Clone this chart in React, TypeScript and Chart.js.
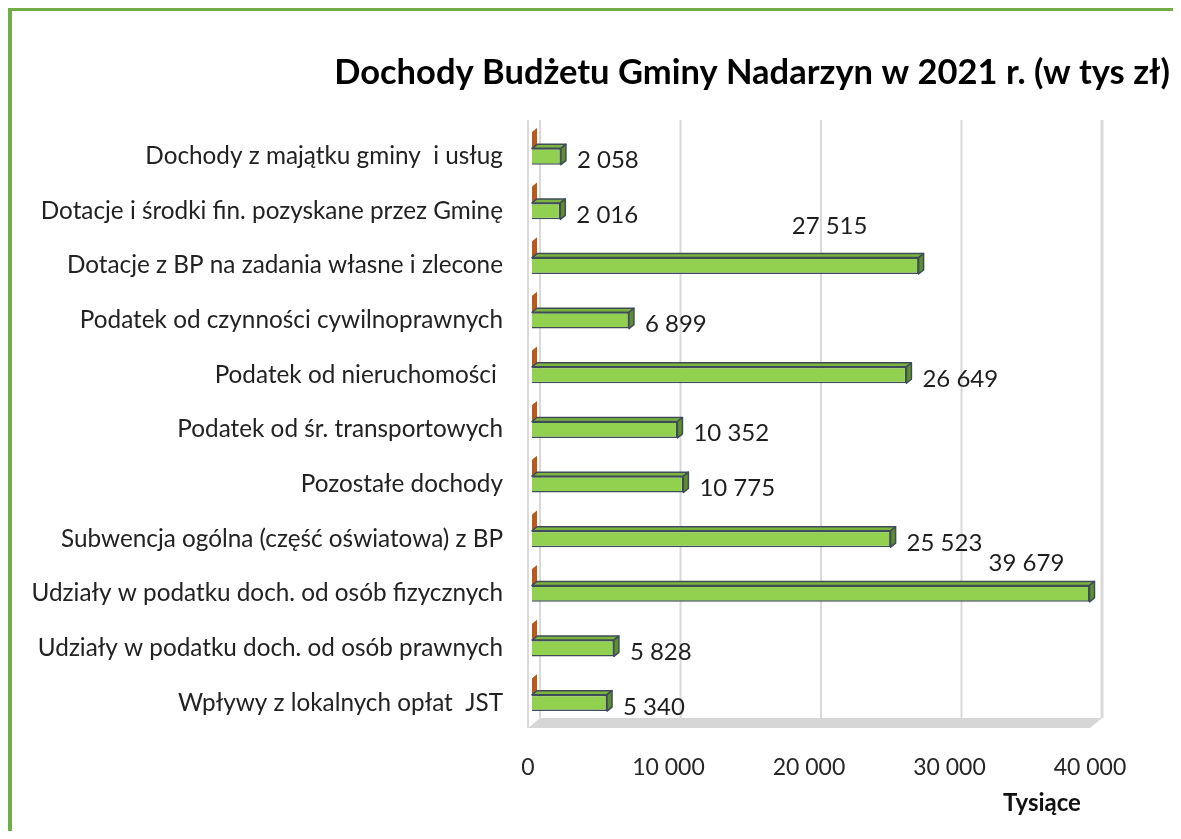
import React, { useEffect, useRef } from 'react';
import { Chart, registerables } from 'chart.js';

Chart.register(...registerables);

const chartTitle = 'Dochody Budżetu Gminy Nadarzyn w 2021 r. (w tys zł)';
const axisTitle = 'Tysiące';

const categories = [
  'Dochody z majątku gminy  i usług',
  'Dotacje i środki fin. pozyskane przez Gminę',
  'Dotacje z BP na zadania własne i zlecone',
  'Podatek od czynności cywilnoprawnych',
  'Podatek od nieruchomości ',
  'Podatek od śr. transportowych',
  'Pozostałe dochody',
  'Subwencja ogólna (część oświatowa) z BP',
  'Udziały w podatku doch. od osób fizycznych',
  'Udziały w podatku doch. od osób prawnych',
  'Wpływy z lokalnych opłat  JST',
];

// second (brown) series: zero values, visible only as the 3D depth edge
const seriesZero = [0, 0, 0, 0, 0, 0, 0, 0, 0, 0, 0];
const series2021 = [2058, 2016, 27515, 6899, 26649, 10352, 10775, 25523, 39679, 5828, 5340];

const xTicks = [0, 10000, 20000, 30000, 40000];

const fmt = (v: number) => String(v).replace(/\B(?=(\d{3})+(?!\d))/g, ' ');

const FONT = 'Lato, "Open Sans", sans-serif';

const threeD = {
  id: 'threeD',
  beforeDatasetsDraw(chart: any) {
    const { ctx, chartArea } = chart;
    const x = chart.scales.x;
    const top = chartArea.top - 1;
    const floorBack = chartArea.bottom - 4;
    const floorFront = chartArea.bottom + 6;
    const p0 = x.getPixelForValue(xTicks[0]);
    const pN = x.getPixelForValue(xTicks[xTicks.length - 1]);
    ctx.save();
    // floor
    ctx.fillStyle = '#d6d6d6';
    ctx.beginPath();
    ctx.moveTo(p0 - 4, floorFront);
    ctx.lineTo(pN - 4, floorFront);
    ctx.lineTo(pN + 8, floorBack);
    ctx.lineTo(p0 + 8, floorBack);
    ctx.closePath();
    ctx.fill();
    // back wall gridlines
    ctx.strokeStyle = '#d9d9d9';
    xTicks.forEach((v, i) => {
      const px = x.getPixelForValue(v) + 8;
      ctx.lineWidth = i === xTicks.length - 1 ? 3 : 2;
      ctx.beginPath();
      ctx.moveTo(px, top);
      ctx.lineTo(px, floorBack);
      ctx.stroke();
    });
    // left front edge
    ctx.lineWidth = 2;
    ctx.beginPath();
    ctx.moveTo(p0 - 4, top);
    ctx.lineTo(p0 - 4, floorFront);
    ctx.stroke();
    ctx.restore();
  },
  afterDatasetsDraw(chart: any) {
    const { ctx } = chart;
    const dx = 5;
    const dy = -4;
    ctx.save();
    chart.data.datasets.forEach((ds: any, di: number) => {
      const meta = chart.getDatasetMeta(di);
      meta.data.forEach((bar: any) => {
        const p = bar.getProps(['x', 'y', 'base', 'height'], true);
        const left = Math.min(p.base, p.x);
        const right = Math.max(p.base, p.x);
        const t = p.y - p.height / 2;
        const b = p.y + p.height / 2;
        ctx.lineJoin = 'round';
        if (right - left > 0.5) {
          ctx.beginPath();
          ctx.moveTo(left, t);
          ctx.lineTo(right, t);
          ctx.lineTo(right + dx, t + dy);
          ctx.lineTo(left + dx, t + dy);
          ctx.closePath();
          ctx.fillStyle = ds.topColor;
          ctx.fill();
          if (ds.faceBorder) {
            ctx.strokeStyle = ds.faceBorder;
            ctx.lineWidth = 1.5;
            ctx.stroke();
          }
        }
        ctx.beginPath();
        ctx.moveTo(right, t);
        ctx.lineTo(right + dx, t + dy);
        ctx.lineTo(right + dx, b + dy);
        ctx.lineTo(right, b);
        ctx.closePath();
        ctx.fillStyle = ds.sideColor;
        ctx.fill();
        if (ds.faceBorder) {
          ctx.strokeStyle = ds.faceBorder;
          ctx.lineWidth = 1.5;
          ctx.stroke();
        }
      });
    });
    const opts = chart.options.plugins.threeD || {};
    const special = opts.special || {};
    const meta = chart.getDatasetMeta(1);
    ctx.font = `24px ${FONT}`;
    ctx.fillStyle = '#1e1e1e';
    ctx.textBaseline = 'middle';
    meta.data.forEach((bar: any, i: number) => {
      const p = bar.getProps(['x', 'y'], true);
      const text = fmt(chart.data.datasets[1].data[i]);
      const s = special[i];
      if (s) {
        ctx.textAlign = 'center';
        ctx.fillText(text, p.x + s.dx, p.y + s.dy);
      } else {
        ctx.textAlign = 'left';
        ctx.fillText(text, p.x + 16, p.y + 4);
      }
    });
    ctx.restore();
  },
  afterDraw(chart: any) {
    const { ctx } = chart;
    ctx.save();
    ctx.fillStyle = '#000';
    ctx.textAlign = 'center';
    ctx.textBaseline = 'middle';
    ctx.font = `bold 34.5px ${FONT}`;
    ctx.fillText(chartTitle, 752, 73);
    ctx.font = `bold 24px ${FONT}`;
    ctx.fillStyle = '#111';
    ctx.fillText(axisTitle, 1042, 803);
    ctx.restore();
  },
};

export default function App() {
  const ref = useRef<HTMLCanvasElement | null>(null);

  useEffect(() => {
    if (!ref.current) return;
    const chart = new Chart(ref.current, {
      type: 'bar',
      data: {
        labels: categories,
        datasets: [
          {
            label: 'seria 2',
            data: seriesZero,
            backgroundColor: '#C0601E',
            borderWidth: 0,
            sideColor: '#B85A1E',
            topColor: '#C86A2A',
            faceBorder: null,
          } as any,
          {
            label: '2021',
            data: series2021,
            backgroundColor: '#92D050',
            borderColor: '#3E4C5A',
            borderWidth: 1.5,
            sideColor: '#5F8F2C',
            topColor: '#7DB43E',
            faceBorder: '#3E4C5A',
          } as any,
        ],
      },
      options: {
        indexAxis: 'y',
        animation: false,
        responsive: false,
        maintainAspectRatio: false,
        layout: { padding: { top: 121, right: 87, left: 0, bottom: 0 } },
        datasets: {
          bar: { categoryPercentage: 0.6, barPercentage: 1 },
        },
        scales: {
          x: {
            type: 'linear',
            min: xTicks[0],
            max: xTicks[xTicks.length - 1],
            afterBuildTicks: (scale: any) => {
              scale.ticks = xTicks.map((v) => ({ value: v }));
            },
            afterFit: (scale: any) => {
              scale.height = 117;
            },
            grid: { display: false, drawTicks: false },
            border: { display: false },
            ticks: {
              padding: 32,
              labelOffset: -4,
              color: '#262626',
              font: { family: FONT, size: 23 },
              callback: (v: any) => fmt(Number(v)),
              maxRotation: 0,
            },
          },
          y: {
            type: 'category',
            afterFit: (scale: any) => {
              scale.width = 532;
            },
            grid: { display: false, drawTicks: false },
            border: { display: false },
            ticks: {
              padding: 29,
              labelOffset: 8,
              color: '#222',
              font: { family: FONT, size: 24.3 },
              autoSkip: false,
            },
          },
        },
        plugins: {
          legend: { display: false },
          title: { display: false },
          tooltip: { enabled: false },
          threeD: {
            special: {
              2: { dx: -89, dy: -40 },
              8: { dx: -63, dy: -30 },
            },
          },
        } as any,
      },
      plugins: [threeD],
    });
    return () => chart.destroy();
  }, []);

  return (
    <div style={{ position: 'relative', width: 1181, height: 839, margin: -8, overflow: 'hidden', background: '#fff' }}>
      <div
        style={{
          position: 'absolute',
          left: 7,
          top: 6,
          width: 1200,
          height: 860,
          borderTop: '5px solid #70AD47',
          borderLeft: '5px solid #70AD47',
          boxSizing: 'border-box',
        }}
      />
      <canvas ref={ref} width={1181} height={839} style={{ position: 'absolute', left: 0, top: 0 }} />
    </div>
  );
}
